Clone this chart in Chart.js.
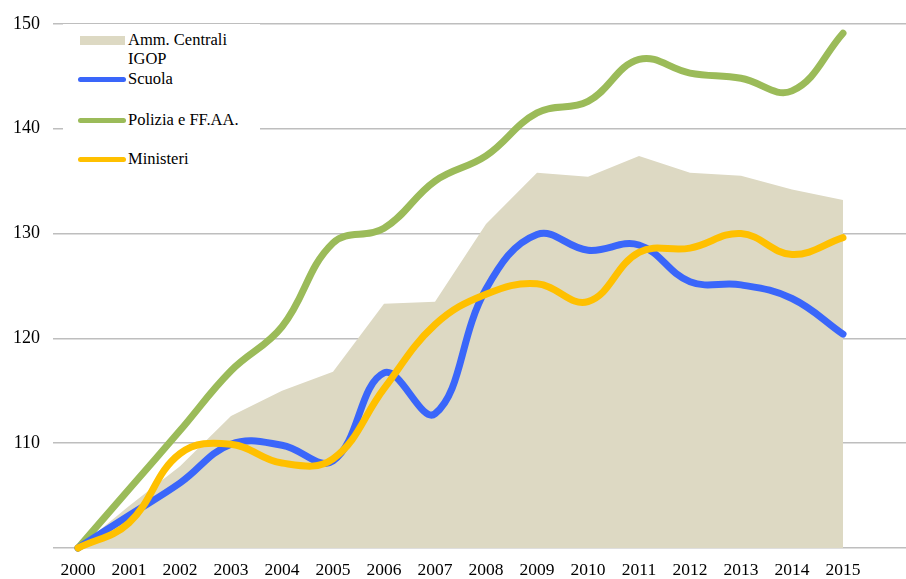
<!DOCTYPE html>
<html>
<head>
<meta charset="utf-8">
<script src="https://cdn.jsdelivr.net/npm/chart.js@4/dist/chart.umd.min.js"></script>
<style>
  html, body { margin: 0; padding: 0; background: #fff; }
  #wrap { position: relative; width: 906px; height: 579px; }
  #legend { position: absolute; left: 63px; top: 24px; width: 197px; height: 148px; background: #fff;
    font-family: "Liberation Serif", "Times New Roman", serif; font-size: 16.5px; color: #000; }
  .item { position: absolute; left: 0; }
  .sw { position: absolute; }
  .lab { position: absolute; left: 65px; white-space: nowrap; line-height: 19px; }
</style>
</head>
<body>
<div id="wrap">
  <canvas id="c" width="906" height="579"></canvas>
  <div id="legend"></div>
</div>
<script>
// ---- Data ----
const years = [2000, 2001, 2002, 2003, 2004, 2005, 2006, 2007, 2008, 2009, 2010, 2011, 2012, 2013, 2014, 2015];
const ammCentrali = [100, 104.0, 107.8, 112.6, 115.0, 116.8, 123.3, 123.5, 130.9, 135.8, 135.4, 137.4, 135.8, 135.5, 134.2, 133.2];
const scuola      = [100, 103.1, 106.2, 109.9, 109.8, 108.3, 116.7, 112.8, 124.7, 129.9, 128.4, 128.9, 125.4, 125.1, 123.8, 120.4];
const polizia     = [100, 105.6, 111.2, 116.9, 121.1, 129.1, 130.5, 135.0, 137.4, 141.5, 142.6, 146.6, 145.3, 144.8, 143.6, 149.1];
const ministeri   = [100, 102.4, 109.0, 109.9, 108.1, 108.5, 115.2, 121.3, 124.2, 125.2, 123.5, 128.2, 128.6, 130.0, 128.0, 129.6];
const yTicks = [100, 110, 120, 130, 140, 150];

const seriesNames = ["Amm. Centrali\nIGOP", "Scuola", "Polizia e FF.AA.", "Ministeri"];
const colors = { area: "#DDD9C3", scuola: "#3A66FA", polizia: "#9BBB59", ministeri: "#FFC000" };

const pts = arr => arr.map((v, i) => ({ x: years[i], y: v }));

const lineDs = (label, data, color, order) => ({
  type: 'line', label, data: pts(data), borderColor: color, backgroundColor: color,
  borderWidth: 7, pointRadius: 0, tension: 0.4, fill: false, order,
  borderCapStyle: 'round', borderJoinStyle: 'round', clip: false
});

new Chart(document.getElementById('c'), {
  type: 'line',
  data: {
    datasets: [
      { label: seriesNames[0], data: pts(ammCentrali), borderWidth: 0, borderColor: 'rgba(0,0,0,0)',
        backgroundColor: colors.area, fill: 'origin', pointRadius: 0, tension: 0, order: 4 },
      lineDs(seriesNames[1], scuola, colors.scuola, 2),
      lineDs(seriesNames[2], polizia, colors.polizia, 3),
      lineDs(seriesNames[3], ministeri, colors.ministeri, 1)
    ]
  },
  options: {
    responsive: false, animation: false,
    layout: { padding: { top: 20, right: 0, left: 0, bottom: 0 } },
    plugins: { legend: { display: false }, tooltip: { enabled: false } },
    scales: {
      x: {
        type: 'linear', min: 2000 - 25 / 51, max: 2000 - 25 / 51 + 853 / 51,
        afterBuildTicks: s => { s.ticks = years.map(v => ({ value: v })); },
        afterFit: s => { s.height = 31; },
        grid: { display: false, drawTicks: false },
        border: { display: false },
        ticks: { autoSkip: false, maxRotation: 0, padding: 12, color: '#000',
          font: { family: "'Liberation Serif', 'Times New Roman', serif", size: 17.5 },
          callback: v => String(v) }
      },
      y: {
        min: 100, max: 150,
        afterBuildTicks: s => { s.ticks = yTicks.map(v => ({ value: v })); },
        afterFit: s => { s.width = 53; },
        grid: { color: '#BEBEBE', lineWidth: 1.5, drawTicks: false },
        border: { display: false },
        ticks: { padding: 13, color: '#000',
          font: { family: "'Liberation Serif', 'Times New Roman', serif", size: 18 },
          callback: v => (v === 100 ? '' : String(v)) }
      }
    }
  }
});

// ---- Legend (HTML overlay) ----
const legend = document.getElementById('legend');
const items = [
  { name: seriesNames[0], color: colors.area, kind: 'rect', swY: 12, labY: 6 },
  { name: seriesNames[1], color: colors.scuola, kind: 'line', swY: 55, labY: 45 },
  { name: seriesNames[2], color: colors.polizia, kind: 'line', swY: 96, labY: 86 },
  { name: seriesNames[3], color: colors.ministeri, kind: 'line', swY: 135, labY: 125 }
];
items.forEach(it => {
  const sw = document.createElement('div');
  sw.className = 'sw';
  if (it.kind === 'rect') {
    sw.style.left = '17px'; sw.style.top = it.swY + 'px'; sw.style.width = '45px'; sw.style.height = '9px';
  } else {
    sw.style.left = '15px'; sw.style.top = (it.swY - 2.5) + 'px'; sw.style.width = '48px'; sw.style.height = '5px';
    sw.style.borderRadius = '3px';
  }
  sw.style.background = it.color;
  legend.appendChild(sw);
  const lab = document.createElement('div');
  lab.className = 'lab';
  lab.style.top = it.labY + 'px';
  lab.innerHTML = it.name.split('\n').join('<br>');
  legend.appendChild(lab);
});
</script>
</body>
</html>
